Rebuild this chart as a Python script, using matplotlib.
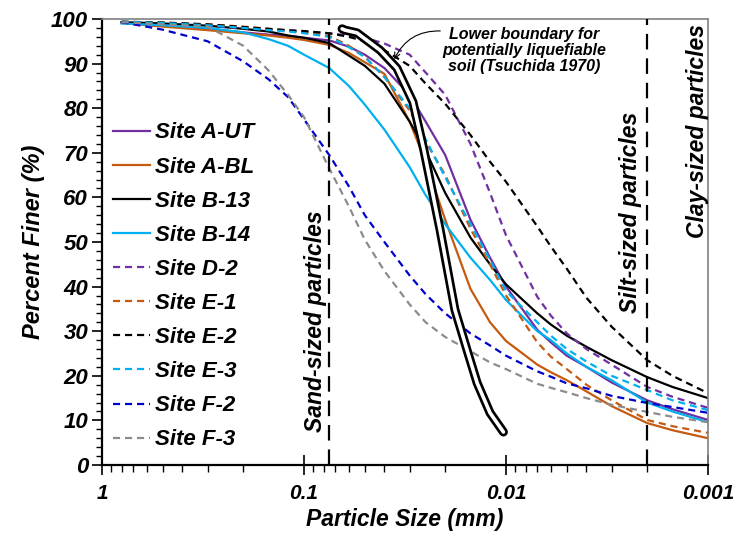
import numpy as np
import matplotlib.pyplot as plt
from matplotlib.ticker import FixedLocator, FixedFormatter, NullFormatter

plt.rcParams['font.family'] = ['Liberation Sans', 'DejaVu Sans']
plt.rcParams['font.weight'] = 'bold'
plt.rcParams['font.style'] = 'italic'
plt.rcParams['axes.labelweight'] = 'bold'

# particle sizes (mm) shared by every gradation curve
sizes = [0.8, 0.5, 0.3, 0.2, 0.15, 0.12, 0.1, 0.075, 0.06, 0.05, 0.04, 0.03,
         0.025, 0.02, 0.015, 0.012, 0.01, 0.007, 0.006, 0.005, 0.004, 0.003,
         0.002, 0.0015, 0.001]

# percent finer for each site
site_a_ut = [99.2, 98.6, 97.8, 97.0, 96.5, 96.2, 95.8, 95.2, 93.8, 92.0, 89.0, 83.0,
             77.0, 69.5, 55.0, 46.5, 40.0, 30.3, 27.5, 24.5, 22.0, 18.5,
             14.5, 12.5, 10.1]
site_a_bl = [99.1, 98.3, 97.5, 96.8, 96.3, 95.8, 95.3, 94.2, 92.4, 90.3, 87.7, 77.0,
             68.0, 55.0, 39.5, 32.0, 27.8, 22.5, 20.8, 19.0, 16.5, 13.2,
             9.4, 7.8, 6.0]
site_b_13 = [99.3, 99.0, 98.5, 97.8, 97.2, 96.3, 95.8, 94.6, 91.8, 89.5, 85.5, 77.0,
             70.5, 61.0, 51.0, 45.0, 40.5, 34.0, 31.5, 29.0, 26.5, 23.5,
             19.7, 17.5, 15.0]
site_b_14 = [99.0, 98.6, 98.0, 97.0, 95.5, 94.0, 92.0, 89.0, 85.0, 80.8, 75.2, 66.8,
             60.5, 54.0, 46.5, 41.5, 37.0, 30.0, 28.0, 25.0, 22.0, 19.0,
             14.0, 12.0, 9.6]
site_d_2 = [99.3, 99.0, 98.5, 98.0, 97.7, 97.4, 97.2, 96.8, 96.3, 95.8, 94.5, 92.0,
            88.0, 83.0, 72.0, 61.0, 51.5, 37.7, 33.5, 29.5, 26.0, 22.5,
            17.5, 15.3, 12.8]
site_e_1 = [99.4, 99.2, 98.8, 98.3, 97.8, 97.4, 97.0, 96.2, 94.0, 91.5, 87.0, 79.5,
            72.5, 65.0, 53.0, 45.0, 38.0, 27.5, 24.3, 21.5, 18.0, 14.5,
            10.1, 8.7, 7.2]
site_e_2 = [99.4, 99.2, 98.8, 98.2, 97.8, 97.5, 97.3, 96.8, 96.0, 95.0, 93.0, 89.5,
            85.5, 81.0, 74.0, 68.0, 63.5, 53.5, 49.0, 44.0, 37.5, 31.0,
            23.5, 20.0, 16.1]
site_e_3 = [99.4, 99.1, 98.6, 98.0, 97.5, 97.2, 96.8, 96.0, 93.7, 91.5, 87.0, 80.0,
            73.0, 64.5, 54.0, 46.0, 39.0, 32.0, 29.0, 26.0, 23.2, 20.0,
            16.8, 14.5, 12.3]
site_f_2 = [99.3, 97.6, 95.0, 90.5, 86.5, 82.5, 77.5, 69.5, 62.5, 56.0, 50.0, 42.5,
            38.3, 34.0, 29.5, 26.8, 24.5, 21.0, 19.8, 18.3, 17.2, 15.5,
            13.9, 13.0, 11.7]
site_f_3 = [99.3, 98.8, 98.3, 94.0, 88.5, 83.0, 78.0, 66.5, 58.0, 50.5, 43.5, 36.0,
            32.0, 28.7, 25.5, 23.0, 21.5, 18.2, 17.3, 16.3, 15.0, 13.5,
            11.9, 10.8, 9.6]

# Tsuchida (1970) lower boundary for potentially liquefiable soil
bound_size = [0.0648, 0.0626, 0.0547, 0.042, 0.0347, 0.0289, 0.0255, 0.0212,
              0.0179, 0.0156, 0.0139, 0.012, 0.0103]
bound_pct = [97.8, 97.5, 96.9, 93.0, 89.0, 81.4, 70.6, 52.7, 34.8, 25.8,
             18.4, 11.7, 7.4]

sand_limit = 0.075
silt_limit = 0.002

series = [
    ('Site A-UT', site_a_ut, '#7030A0', '-'),
    ('Site A-BL', site_a_bl, '#C55A11', '-'),
    ('Site B-13', site_b_13, 'black', '-'),
    ('Site B-14', site_b_14, '#00B0F0', '-'),
    ('Site D-2', site_d_2, '#7030A0', '--'),
    ('Site E-1', site_e_1, '#C55A11', '--'),
    ('Site E-2', site_e_2, 'black', '--'),
    ('Site E-3', site_e_3, '#00B0F0', '--'),
    ('Site F-2', site_f_2, '#0000CC', '--'),
    ('Site F-3', site_f_3, '#8C8C8C', '--'),
]

fig = plt.figure(figsize=(7.33, 5.37), dpi=100)
ax = fig.add_axes([0.1392, 0.1341, 0.8267, 0.8305])

for name, vals, color, ls in series:
    kw = dict(color=color, linewidth=1.6, label=name)
    if ls == '--':
        kw['dashes'] = (3.2, 2.2)
    ax.plot(sizes, vals, **kw)

# double-outline boundary curve
ax.plot(bound_size, bound_pct, color='black', linewidth=6.5,
        solid_capstyle='round', solid_joinstyle='round', zorder=5)
ax.plot(bound_size, bound_pct, color='white', linewidth=2.6,
        solid_capstyle='round', solid_joinstyle='round', zorder=6)

for lim in (sand_limit, silt_limit):
    ax.axvline(lim, color='black', linewidth=1.6, dashes=(7, 4), zorder=4)

ax.set_xscale('log')
ax.set_xlim(1, 0.001)
ax.set_ylim(0, 100)

ax.xaxis.set_major_locator(FixedLocator([1, 0.1, 0.01, 0.001]))
ax.xaxis.set_major_formatter(FixedFormatter(['1', '0.1', '0.01', '0.001']))
minor_x = [m * 10.0 ** e for e in (-3, -2, -1) for m in range(2, 10)]
ax.xaxis.set_minor_locator(FixedLocator(minor_x))
ax.xaxis.set_minor_formatter(NullFormatter())
ax.set_yticks(np.arange(0, 101, 10))
ax.set_yticks(np.arange(0, 101, 2), minor=True)

ax.tick_params(axis='x', which='major', direction='inout', length=14,
               width=1.2, labelsize=15, pad=7)
ax.tick_params(axis='x', which='minor', direction='out', length=5, width=1)
ax.tick_params(axis='y', which='major', direction='out', length=7,
               width=1.2, labelsize=16, pad=3)
ax.tick_params(axis='y', which='minor', direction='out', length=4, width=1)

for side in ('left', 'bottom'):
    ax.spines[side].set_linewidth(1.6)
    ax.spines[side].set_color('black')
for side in ('top', 'right'):
    ax.spines[side].set_linewidth(1.2)
    ax.spines[side].set_color('#808080')

ax.set_xlabel('Particle Size (mm)', fontsize=16.5, fontweight='bold', labelpad=3)
ax.set_ylabel('Percent Finer (%)', fontsize=17, fontweight='bold', labelpad=4)

ax.text(0.088, 32.3, 'Sand-sized particles', rotation=90, fontsize=16.5,
        ha='center', va='center')
ax.text(0.00243, 56.7, 'Silt-sized particles', rotation=90, fontsize=16.5,
        ha='center', va='center')
ax.text(0.00113, 74.9, 'Clay-sized particles', rotation=90, fontsize=16.5,
        ha='center', va='center')

ax.text(0.0081, 93.0, 'Lower boundary for\npotentially liquefiable\nsoil (Tsuchida 1970)',
        fontsize=11.5, ha='center', va='center', linespacing=1.1)
ax.annotate('', xy=(0.0362, 90.4), xytext=(0.0205, 97.3),
            arrowprops=dict(arrowstyle='->', color='black', linewidth=0.8,
                            connectionstyle='arc3,rad=0.35'))

ax.legend(loc='upper left', bbox_to_anchor=(-0.008, 0.803), frameon=False,
          fontsize=16, handlelength=1.67, handletextpad=0.22,
          labelspacing=0.59, borderaxespad=0.3)

fig.savefig('out.png', dpi=100)
